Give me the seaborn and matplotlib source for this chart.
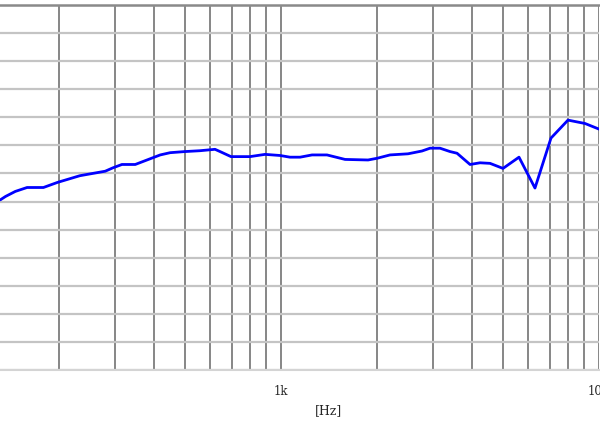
import numpy as np
import pandas as pd
import matplotlib
matplotlib.use("Agg")
import matplotlib.pyplot as plt
from matplotlib.ticker import LogLocator, FixedLocator, NullFormatter
import seaborn as sns

# frequency response
freq_hz = [131, 136, 146, 159, 179, 198, 233, 280, 296, 316, 348, 387, 417, 448,
           499, 556, 620, 643, 696, 799, 891, 993, 1067, 1148, 1252, 1395, 1590,
           1878, 2004, 2202, 2508, 2776, 2942, 3162, 3400, 3577, 3930, 4225,
           4542, 4991, 5603, 6290, 7063, 7988, 9036, 10000]
level_db = [70.3, 70.9, 71.8, 72.5, 72.5, 73.4, 74.6, 75.4, 76.0, 76.6, 76.6,
            77.6, 78.3, 78.7, 78.9, 79.05, 79.3, 78.9, 78.0, 78.0, 78.4, 78.2,
            77.9, 77.9, 78.3, 78.3, 77.5, 77.4, 77.7, 78.3, 78.5, 79.0, 79.5,
            79.5, 78.9, 78.6, 76.6, 76.9, 76.8, 75.9, 77.9, 72.4, 81.3, 84.5,
            83.9, 82.9]
major_ticks = [1000, 10000]
major_labels = ["1k", "10k"]
y_grid = list(range(40, 106, 5))

df = pd.DataFrame({"freq": freq_hz, "level": level_db})

sns.set_style("white")
fig = plt.figure(figsize=(6, 4.22), dpi=100)
ax = fig.add_axes([0, 52 / 422, 599 / 600, 365 / 422])

sns.lineplot(data=df, x="freq", y="level", color="#0000ff", linewidth=2.0,
             ax=ax, zorder=5)

ax.set_xscale("log")
ax.set_xlim(130.7, 10000)
ax.set_ylim(40, 105)

ax.xaxis.set_major_locator(FixedLocator(major_ticks))
ax.set_xticklabels(major_labels, family="DejaVu Serif", fontsize=8.5)
ax.xaxis.set_minor_locator(LogLocator(base=10, subs=np.arange(2, 10)))
ax.xaxis.set_minor_formatter(NullFormatter())
ax.tick_params(axis="x", which="major", length=5, width=1, color="#444444",
               pad=6, direction="out")
ax.tick_params(axis="x", which="minor", length=0)

ax.set_yticks(y_grid)
ax.set_yticklabels([])
ax.tick_params(axis="y", length=0)

ax.grid(axis="x", which="both", color="#666666", linewidth=1.1)
ax.grid(axis="y", which="major", color="#c4c4c4", linewidth=1.6)
ax.set_axisbelow(True)

for side in ["left", "right"]:
    ax.spines[side].set_visible(False)
ax.spines["top"].set_color("#8a8a8a")
ax.spines["top"].set_linewidth(1.8)
ax.spines["bottom"].set_color("#d4d4d4")
ax.spines["bottom"].set_linewidth(1.5)

ax.set_ylabel("")
ax.set_xlabel("[Hz]", family="DejaVu Serif", fontsize=9)
ax.xaxis.set_label_coords(329 / 599, -34 / 365)

fig.savefig("out.png", dpi=100)
plt.close(fig)
